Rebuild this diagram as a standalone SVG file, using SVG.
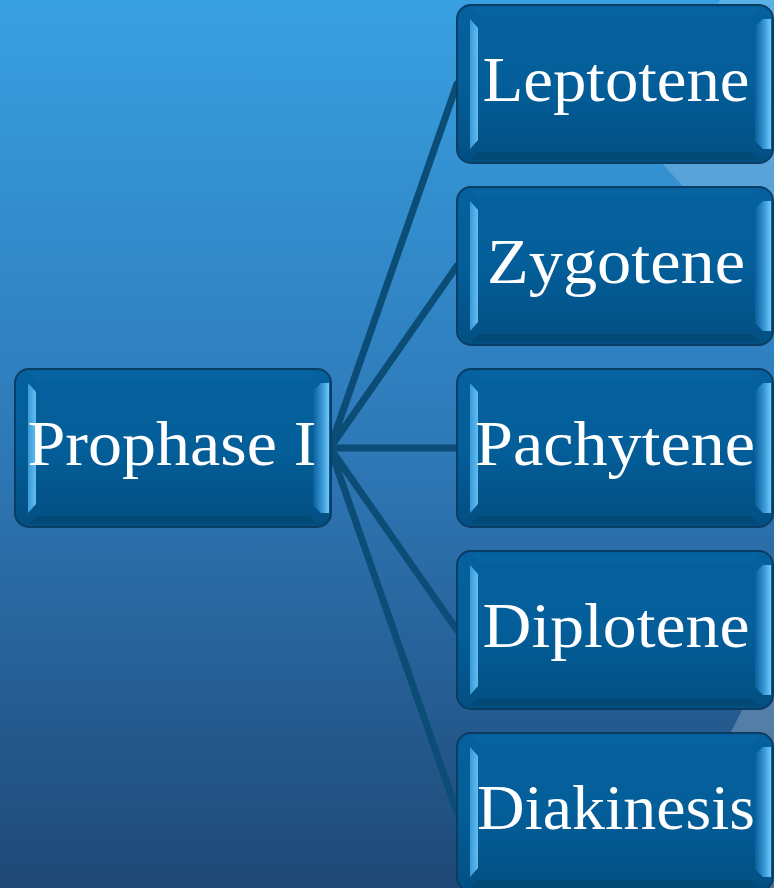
<svg xmlns="http://www.w3.org/2000/svg" xmlns:xlink="http://www.w3.org/1999/xlink" width="774" height="888" viewBox="0 0 774 888">
  <defs>
    <linearGradient id="bg" x1="0" y1="0" x2="0" y2="1">
      <stop offset="0" stop-color="#38a0e1"/>
      <stop offset="0.5" stop-color="#2e79b8"/>
      <stop offset="1" stop-color="#1f4876"/>
    </linearGradient>
    <linearGradient id="face" x1="0" y1="0" x2="0" y2="1">
      <stop offset="0" stop-color="#05619e"/>
      <stop offset="0.5" stop-color="#035e99"/>
      <stop offset="1" stop-color="#034f82"/>
    </linearGradient>
    <linearGradient id="bevL" x1="0" y1="0" x2="1" y2="0">
      <stop offset="0" stop-color="#3a9ad8"/>
      <stop offset="1" stop-color="#62bdf0"/>
    </linearGradient>
    <linearGradient id="bevR" x1="0" y1="0" x2="1" y2="0">
      <stop offset="0" stop-color="#0a5f9c"/>
      <stop offset="0.6" stop-color="#3a9ad8"/>
      <stop offset="1" stop-color="#72c9f6"/>
    </linearGradient>
    <g id="box">
      <rect x="0" y="0" width="316" height="158" rx="14" ry="14" fill="url(#face)" stroke="#0a3d63" stroke-width="2"/>
      <polygon points="14,3 302,3 294,11 22,11" fill="#0866a3" fill-opacity="0.6"/>
      <polygon points="22,147 294,147 302,155 14,155" fill="#03476f" fill-opacity="0.7"/>
      <polygon points="13,14 21,23 21,135 13,144" fill="url(#bevL)"/>
      <polygon points="298,22 306,14 314,14 314,144 306,144 298,136" fill="url(#bevR)"/>
    </g>
    <style>
      .lbl { font-family: "Liberation Serif", "Times New Roman", serif; font-size: 64px; fill: #ffffff; text-anchor: middle; }
      .conn { stroke: #0c4d77; stroke-width: 7; stroke-linecap: round; fill: none; }
    </style>
  </defs>

  <rect x="0" y="0" width="774" height="888" fill="url(#bg)"/>
  <polygon points="720,0 774,0 774,287 650,150" fill="#ffffff" fill-opacity="0.18"/>
  <polygon points="774,680 743,708 653,888 774,888" fill="#ffffff" fill-opacity="0.22"/>

  <g id="connectors">
    <line class="conn" x1="330" y1="448" x2="457" y2="84"/>
    <line class="conn" x1="330" y1="448" x2="457" y2="266"/>
    <line class="conn" x1="330" y1="448" x2="457" y2="448"/>
    <line class="conn" x1="330" y1="448" x2="457" y2="630"/>
    <line class="conn" x1="330" y1="448" x2="457" y2="812"/>
  </g>

  <g id="prophase">
    <use xlink:href="#box" x="15" y="369"/>
    <text class="lbl" x="172" y="465" textLength="289" lengthAdjust="spacingAndGlyphs">Prophase I</text>
  </g>
  <g id="leptotene">
    <use xlink:href="#box" x="457" y="5"/>
    <text class="lbl" x="616" y="101" textLength="267" lengthAdjust="spacingAndGlyphs">Leptotene</text>
  </g>
  <g id="zygotene">
    <use xlink:href="#box" x="457" y="187"/>
    <text class="lbl" x="616" y="283" textLength="258" lengthAdjust="spacingAndGlyphs">Zygotene</text>
  </g>
  <g id="pachytene">
    <use xlink:href="#box" x="457" y="369"/>
    <text class="lbl" x="615" y="465" textLength="280" lengthAdjust="spacingAndGlyphs">Pachytene</text>
  </g>
  <g id="diplotene">
    <use xlink:href="#box" x="457" y="551"/>
    <text class="lbl" x="616" y="647" textLength="267" lengthAdjust="spacingAndGlyphs">Diplotene</text>
  </g>
  <g id="diakinesis">
    <use xlink:href="#box" x="457" y="733"/>
    <text class="lbl" x="616" y="829" textLength="278" lengthAdjust="spacingAndGlyphs">Diakinesis</text>
  </g>
</svg>
